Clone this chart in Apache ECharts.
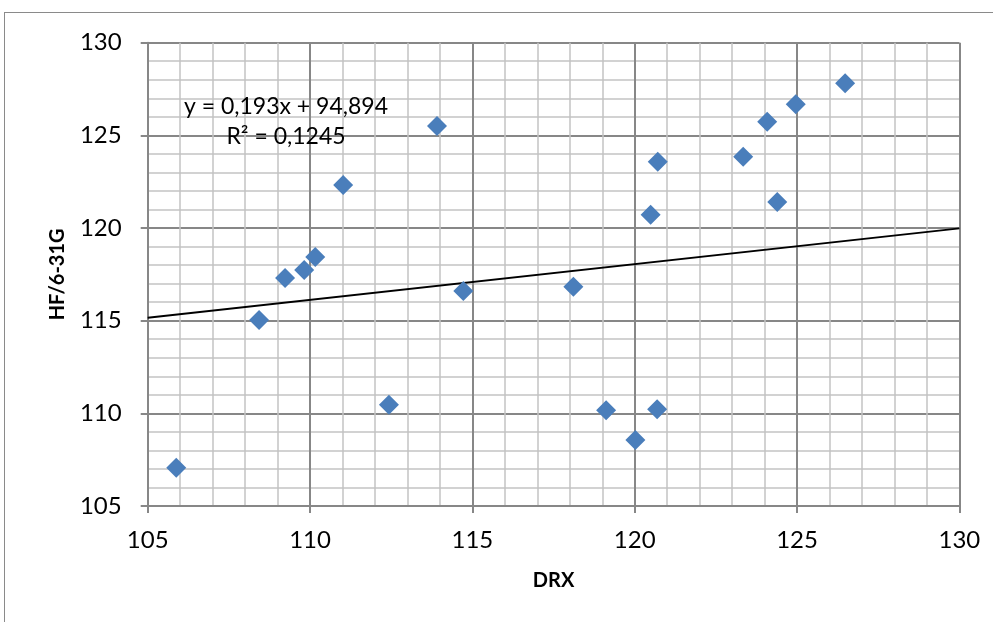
<!DOCTYPE html>
<html>
<head>
<meta charset="utf-8">
<script src="https://cdn.jsdelivr.net/npm/echarts@6/dist/echarts.min.js"></script>
<style>
  html, body { margin: 0; padding: 0; background: #fff; }
  #frame { position: absolute; left: 4px; top: 12px; width: 1100px; height: 700px; border: 1.5px solid #8a8a8a; box-sizing: border-box; }
  #chart { position: absolute; left: 0; top: 0; width: 993px; height: 622px; }
</style>
</head>
<body>
<div id="frame"></div>
<div id="chart"></div>
<script>
// Data
const drx = [105.88, 108.43, 109.23, 109.82, 110.16, 111.02, 112.43, 113.91, 114.72, 118.11,
             119.12, 120.02, 120.69, 120.49, 120.71, 123.34, 124.39, 124.08, 124.96, 126.48];
const hf  = [107.07, 115.04, 117.30, 117.74, 118.44, 122.32, 110.47, 125.51, 116.60, 116.83,
             110.16, 108.56, 110.22, 120.72, 123.58, 123.85, 121.41, 125.74, 126.68, 127.81];
const trendSlope = 0.193;
const trendIntercept = 94.894;
const trendX = [105, 130];
const eqText = 'y = 0,193x + 94,894';
const r2Text = 'R² = 0,1245';
const xTicks = [105, 110, 115, 120, 125, 130];
const yTicks = [105, 110, 115, 120, 125, 130];

const points = drx.map((x, i) => [x, hf[i]]);
const trend = trendX.map(x => [x, +(trendSlope * x + trendIntercept).toFixed(4)]);

const FONT = 'Lato';
const chart = echarts.init(document.getElementById('chart'));
const axisCommon = {
  type: 'value',
  interval: 5,
  splitNumber: 5,
  axisLine: { show: true, onZero: false, lineStyle: { color: '#878787', width: 2 } },
  axisTick: { show: true, inside: false, length: 7, lineStyle: { color: '#878787', width: 2 } },
  minorTick: { show: false, splitNumber: 5 },
  splitLine: { show: true, lineStyle: { color: '#878787', width: 2 } },
  minorSplitLine: { show: true, lineStyle: { color: '#c4c4c4', width: 1.5 } },
  axisLabel: { color: '#000', fontFamily: FONT, fontSize: 24 },
  nameTextStyle: { color: '#000', fontFamily: FONT, fontSize: 20, fontWeight: 'bold' }
};
chart.setOption({
  animation: false,
  backgroundColor: 'transparent',
  grid: { left: 147.7, right: 33.6, top: 42.7, bottom: 116, containLabel: false },
  xAxis: Object.assign({}, axisCommon, {
    min: xTicks[0], max: xTicks[xTicks.length - 1],
    name: 'DRX', nameLocation: 'middle', nameGap: 65,
    axisLabel: Object.assign({}, axisCommon.axisLabel, { margin: 22 })
  }),
  yAxis: Object.assign({}, axisCommon, {
    min: yTicks[0], max: yTicks[yTicks.length - 1],
    name: 'HF/6-31G', nameLocation: 'middle', nameGap: 80, nameRotate: 90,
    axisLabel: Object.assign({}, axisCommon.axisLabel, { margin: 26 })
  }),
  series: [
    {
      type: 'line', data: trend, symbol: 'none', silent: true,
      lineStyle: { color: '#000', width: 1.8 }, z: 3
    },
    {
      type: 'scatter', data: points, symbol: 'diamond', symbolSize: [20, 20],
      itemStyle: { color: '#4a7ebb', opacity: 1 }, z: 4
    }
  ],
  graphic: [
    { type: 'text', x: 286, y: 107, z: 10, style: { text: eqText, font: '23px ' + FONT, fill: '#000', align: 'center', verticalAlign: 'middle' } },
    { type: 'text', x: 286, y: 137, z: 10, style: { text: r2Text, font: '23px ' + FONT, fill: '#000', align: 'center', verticalAlign: 'middle' } }
  ]
});
</script>
</body>
</html>
